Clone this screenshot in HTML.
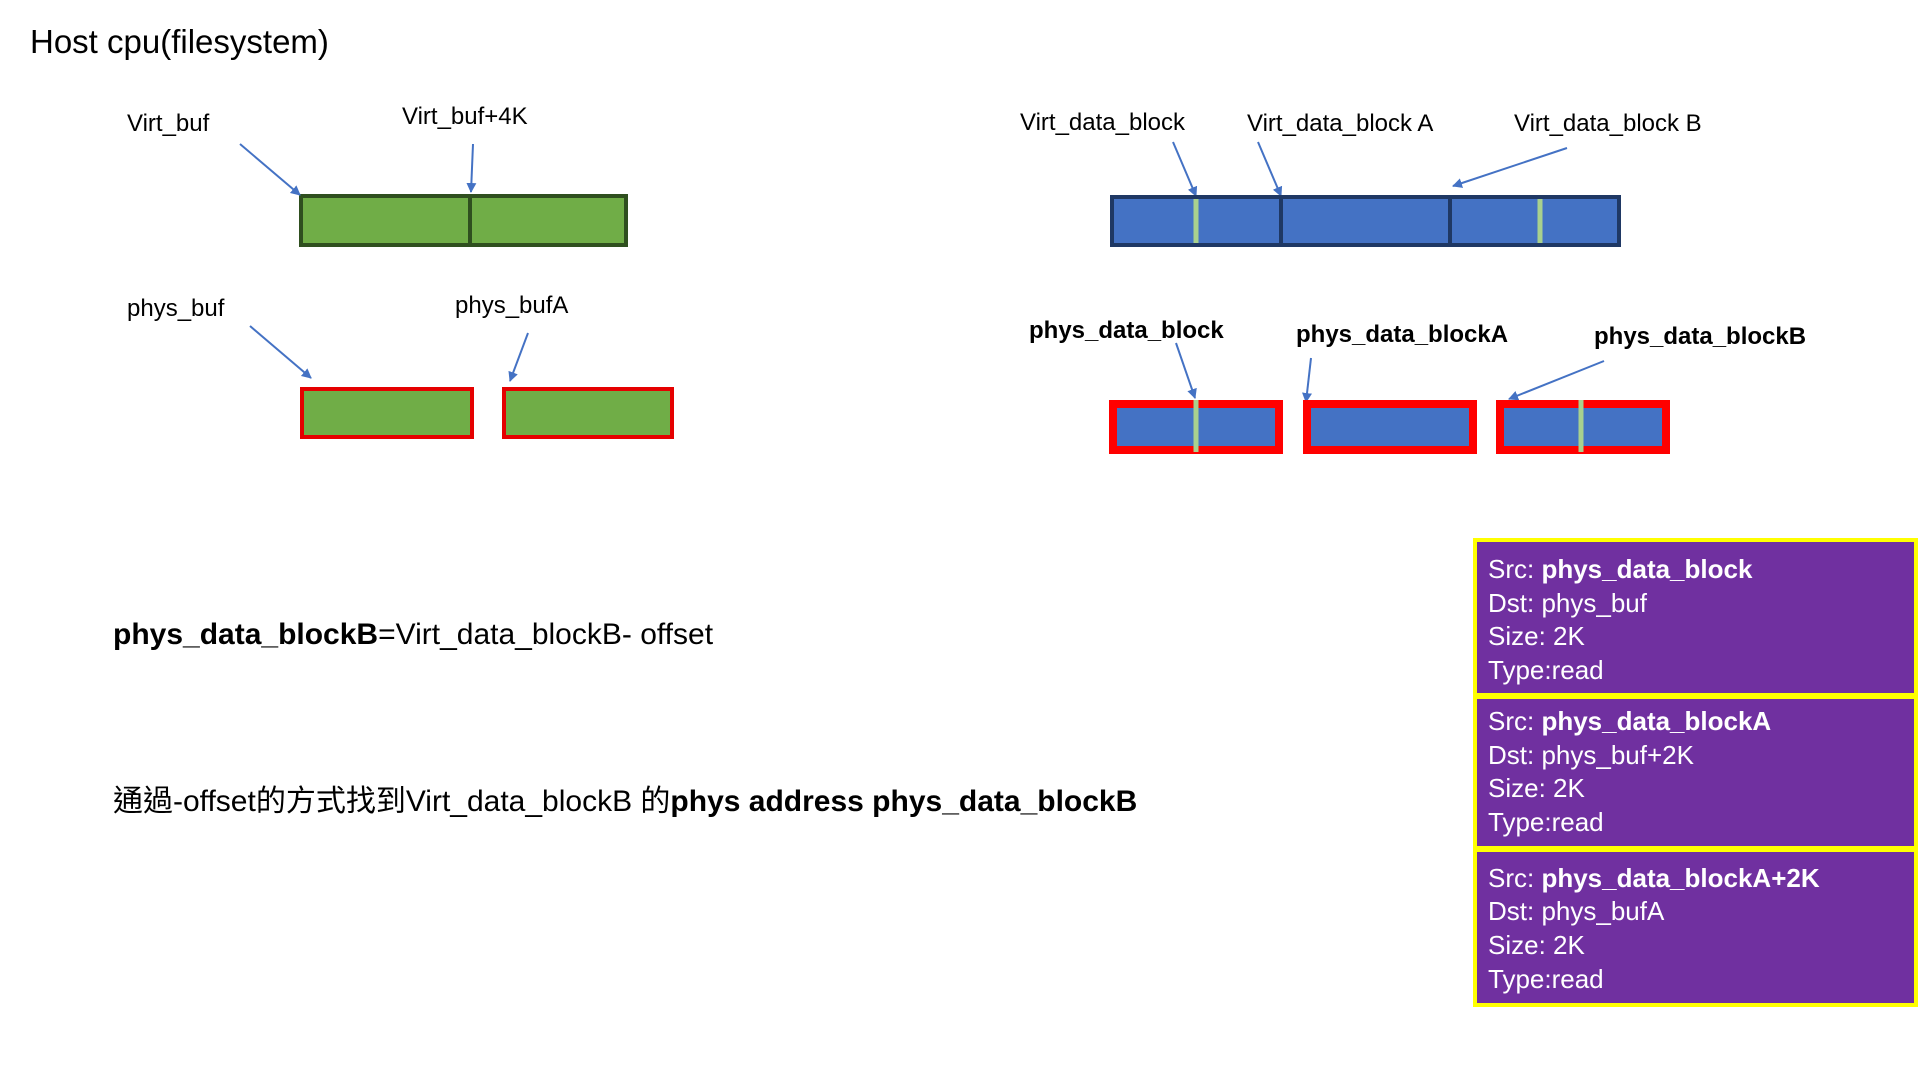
<!DOCTYPE html>
<html><head><meta charset="utf-8"><style>
html,body{margin:0;padding:0;background:#fff;}
svg{display:block;}
text{font-family:"Liberation Sans","Noto Sans CJK TC",sans-serif;}
</style></head><body>
<svg width="1920" height="1080" viewBox="0 0 1920 1080" xmlns="http://www.w3.org/2000/svg">
<defs>
<marker id="ah" markerWidth="10" markerHeight="10" refX="9" refY="5" orient="auto" markerUnits="userSpaceOnUse">
<path d="M0,0 L10,5 L0,10 z" fill="#4472C4"/>
</marker>
</defs>
<text x="30" y="53" font-size="33" fill="#000">Host cpu(filesystem)</text>

<!-- left top green bar -->
<rect x="301" y="196" width="325" height="49" fill="#70AD47" stroke="#2F4F1F" stroke-width="4"/>
<line x1="470" y1="196" x2="470" y2="245" stroke="#2F4F1F" stroke-width="4"/>
<text x="127" y="131" font-size="24">Virt_buf</text>
<text x="402" y="124" font-size="24">Virt_buf+4K</text>
<g stroke="#4472C4" stroke-width="2" marker-end="url(#ah)">
<line x1="240" y1="144" x2="300" y2="195"/>
<line x1="473" y1="144" x2="471" y2="192"/>
<line x1="250" y1="326" x2="311" y2="378"/>
<line x1="528" y1="333" x2="510" y2="381"/>
<line x1="1173" y1="142" x2="1196" y2="196"/>
<line x1="1258" y1="142" x2="1281" y2="196"/>
<line x1="1567" y1="148" x2="1453" y2="186"/>
<line x1="1176" y1="343" x2="1195" y2="398"/>
<line x1="1311" y1="358" x2="1306" y2="402"/>
<line x1="1604" y1="361" x2="1509" y2="399"/>
</g>

<!-- phys green boxes -->
<rect x="302" y="389" width="170" height="48" fill="#70AD47" stroke="#E50000" stroke-width="4"/>
<rect x="504" y="389" width="168" height="48" fill="#70AD47" stroke="#E50000" stroke-width="4"/>
<text x="127" y="316" font-size="24">phys_buf</text>
<text x="455" y="313" font-size="24">phys_bufA</text>

<!-- blue top bar -->
<rect x="1112" y="197" width="507" height="48" fill="#4472C4" stroke="#1F3864" stroke-width="4"/>
<line x1="1281" y1="197" x2="1281" y2="245" stroke="#1F3864" stroke-width="4"/>
<line x1="1450" y1="197" x2="1450" y2="245" stroke="#1F3864" stroke-width="4"/>
<line x1="1196" y1="199" x2="1196" y2="243" stroke="#A9D18E" stroke-width="5"/>
<line x1="1540" y1="199" x2="1540" y2="243" stroke="#A9D18E" stroke-width="5"/>
<text x="1020" y="130" font-size="24">Virt_data_block</text>
<text x="1247" y="131" font-size="24">Virt_data_block A</text>
<text x="1514" y="131" font-size="24">Virt_data_block B</text>

<!-- phys blue boxes -->
<rect x="1113" y="404" width="166" height="46" fill="#4472C4" stroke="#FF0000" stroke-width="8"/>
<rect x="1307" y="404" width="166" height="46" fill="#4472C4" stroke="#FF0000" stroke-width="8"/>
<rect x="1500" y="404" width="166" height="46" fill="#4472C4" stroke="#FF0000" stroke-width="8"/>
<line x1="1196" y1="400" x2="1196" y2="452" stroke="#A9D18E" stroke-width="5"/>
<line x1="1581" y1="400" x2="1581" y2="452" stroke="#A9D18E" stroke-width="5"/>
<text x="1029" y="338" font-size="24" font-weight="bold">phys_data_block</text>
<text x="1296" y="342" font-size="24" font-weight="bold">phys_data_blockA</text>
<text x="1594" y="344" font-size="24" font-weight="bold">phys_data_blockB</text>

<text x="113" y="644" font-size="30"><tspan font-weight="bold">phys_data_blockB</tspan>=Virt_data_blockB- offset</text>
<text x="113" y="811" font-size="30">通過-offset的方式找到Virt_data_blockB 的<tspan font-weight="bold">phys address phys_data_blockB</tspan></text>

<!-- purple boxes -->
<g stroke="#FFFF00" stroke-width="4" fill="#7030A0">
<rect x="1475" y="540" width="441" height="155"/>
<rect x="1475" y="697" width="441" height="151"/>
<rect x="1475" y="850" width="441" height="155"/>
</g>
<g fill="#fff" font-size="26">
<text x="1488" y="578">Src: <tspan font-weight="bold">phys_data_block</tspan></text>
<text x="1488" y="612">Dst: phys_buf</text>
<text x="1488" y="645">Size: 2K</text>
<text x="1488" y="679">Type:read</text>
<text x="1488" y="730">Src: <tspan font-weight="bold">phys_data_blockA</tspan></text>
<text x="1488" y="764">Dst: phys_buf+2K</text>
<text x="1488" y="797">Size: 2K</text>
<text x="1488" y="831">Type:read</text>
<text x="1488" y="887">Src: <tspan font-weight="bold">phys_data_blockA+2K</tspan></text>
<text x="1488" y="920">Dst: phys_bufA</text>
<text x="1488" y="954">Size: 2K</text>
<text x="1488" y="988">Type:read</text>
</g>
</svg>
</body></html>
